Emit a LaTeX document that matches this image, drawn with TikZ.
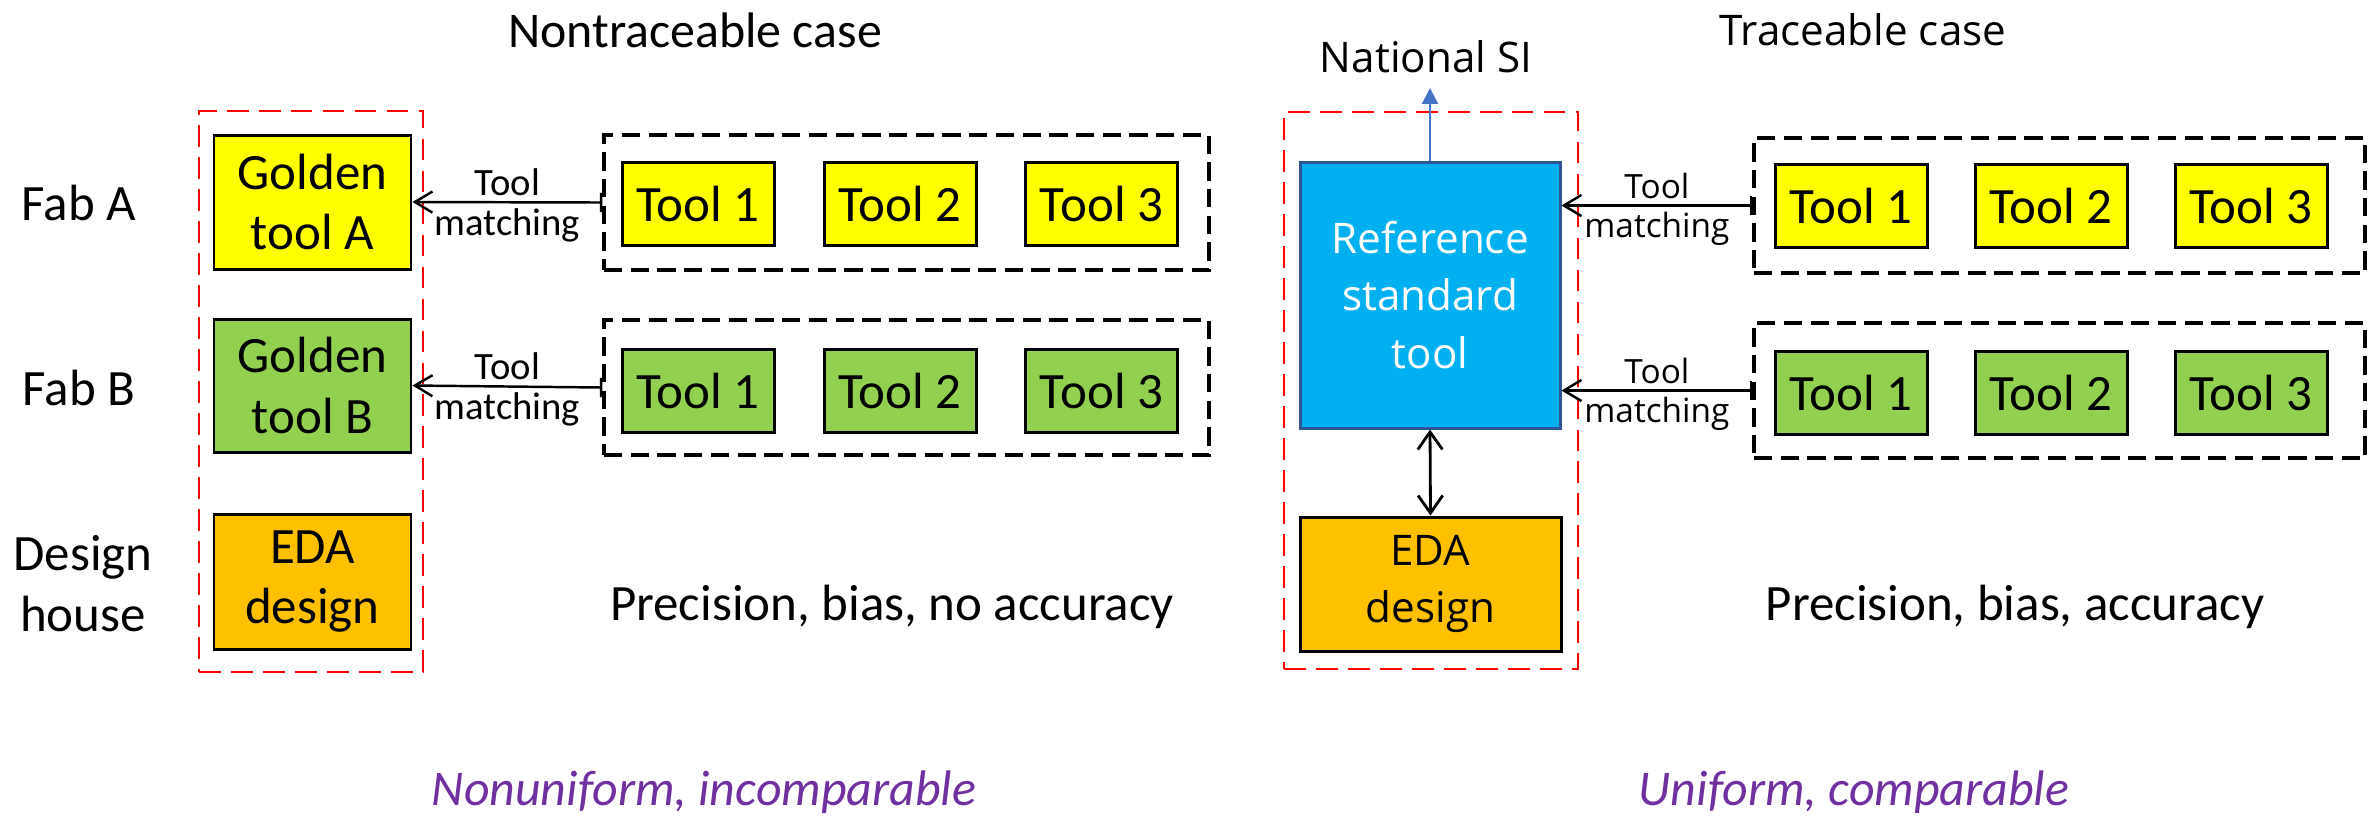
\documentclass[tikz,border=0pt]{standalone}
\usepackage{fontspec}
\setmainfont{Carlito}
\newfontfamily\yahei{Open Sans}
\usetikzlibrary{arrows.meta}
\definecolor{cyel}{HTML}{FFFF00}
\definecolor{cgrn}{HTML}{92D050}
\definecolor{corg}{HTML}{FFC000}
\definecolor{cblu}{HTML}{00B0F0}
\definecolor{cblb}{HTML}{2F5597}
\definecolor{carr}{HTML}{4472C4}
\definecolor{cpur}{HTML}{7030A0}
\definecolor{cred}{HTML}{FF0000}
\begin{document}
\begin{tikzpicture}[x=0.1mm,y=-0.1mm,
  narrow/.style={font=\fontsize{14.5}{17.3}\selectfont},
  wide/.style={font=\yahei\fontsize{12}{16.4}\selectfont},
  box/.style={draw=black, line width=0.85pt, align=center, inner sep=0pt, narrow},
  toolbox/.style={box, minimum width=15.2mm, minimum height=8.3mm},
  grp/.style={draw=black, line width=0.95pt, dash pattern=on 5.2pt off 2.4pt, inner sep=0pt, minimum width=#1},
  redgrp/.style={draw=cred, line width=0.8pt, dash pattern=on 6.2pt off 2.9pt, inner sep=0pt},
  match/.style={line width=0.7pt, {Bar[width=5.5pt]}-{Straight Barb[length=5pt,width=6pt]}},
  lbln/.style={font=\fontsize{11}{12}\selectfont, inner sep=1.5pt},
  lblw/.style={font=\yahei\fontsize{9.5}{11}\selectfont, inner sep=1.5pt},
  title/.style={font=\fontsize{14.2}{16}\selectfont},
  concl/.style={font=\itshape\fontsize{14.2}{16}\selectfont, text=cpur}
]
\path[use as bounding box] (0,0) rectangle (2379,818);

% ---------------- Left: nontraceable ----------------
\node[title] (t1) at (695,30) {Nontraceable case};

\node[redgrp, minimum width=22.4mm, minimum height=56.1mm] (redL) at (311,391.5) {};

\node[box, fill=cyel, minimum width=19.7mm, minimum height=13.4mm] (goldA) at (312.5,202) {Golden\\tool A};
\node[box, fill=cgrn, minimum width=19.7mm, minimum height=13.3mm] (goldB) at (312.5,385.5) {Golden\\tool B};
\node[box, fill=corg, minimum width=19.7mm, minimum height=13.5mm] (edaL) at (312.5,581.5) {EDA\\design};

\node[narrow] (fabA) at (79,203) {Fab A};
\node[narrow] (fabB) at (79,388) {Fab B};
\node[narrow, align=center] (dh) at (83,584) {Design\\house};

\node[grp=60.5mm, minimum height=13.5mm] (gA) at (906.5,202.5) {};
\node[grp=60.5mm, minimum height=13.5mm] (gB) at (906.5,387.5) {};

\node[toolbox, fill=cyel] (a1) at (698,204) {Tool 1};
\node[toolbox, fill=cyel] (a2) at (900,204) {Tool 2};
\node[toolbox, fill=cyel] (a3) at (1101.5,204) {Tool 3};
\node[toolbox, fill=cgrn] (b1) at (698,390.5) {Tool 1};
\node[toolbox, fill=cgrn] (b2) at (900,390.5) {Tool 2};
\node[toolbox, fill=cgrn] (b3) at (1101.5,390.5) {Tool 3};

\draw[match] (gA.west) -- (goldA.east)
  node[midway, above, lbln] {Tool} node[midway, below, lbln] {matching};
\draw[match] (gB.west) -- (goldB.east)
  node[midway, above, lbln] {Tool} node[midway, below, lbln] {matching};

\node[narrow] (pL) at (892,607) {Precision, bias, no accuracy};
\node[concl] (cL) at (704,792) {Nonuniform, incomparable};

% ---------------- Right: traceable ----------------
\node[wide] (t2) at (1863,30) {Traceable case};
\node[wide] (si) at (1426,57) {National SI};

\node[redgrp, minimum width=29.4mm, minimum height=55.7mm] (redR) at (1431,390.5) {};

\node[box, draw=cblb, fill=cblu, text=white, wide, minimum width=26mm, minimum height=26.6mm] (ref) at (1430,295) {Reference\\standard\\tool};
\node[box, fill=corg, wide, minimum width=26.1mm, minimum height=13.4mm] (edaR) at (1430.5,584) {EDA\\design};

\coordinate (siend) at (1430,88);
\draw[carr, line width=0.65pt, -{Triangle[length=4.5pt,width=4.5pt]}] (ref.north) -- (siend);
\draw[line width=0.8pt, {Straight Barb[length=5pt,width=7pt]}-{Straight Barb[length=5pt,width=7pt]}] (ref.south) -- (edaR.north);

\node[grp=61.1mm, minimum height=13.5mm] (gC) at (2059.5,205.5) {};
\node[grp=61.1mm, minimum height=13.5mm] (gD) at (2059.5,390.5) {};

\node[toolbox, fill=cyel] (c1) at (1851,205.5) {Tool 1};
\node[toolbox, fill=cyel] (c2) at (2051,205.5) {Tool 2};
\node[toolbox, fill=cyel] (c3) at (2251,205.5) {Tool 3};
\node[toolbox, fill=cgrn] (d1) at (1851,393) {Tool 1};
\node[toolbox, fill=cgrn] (d2) at (2051,393) {Tool 2};
\node[toolbox, fill=cgrn] (d3) at (2251,393) {Tool 3};

\draw[match] (gC.west) -- (gC.west -| ref.east)
  node[midway, above, lblw] {Tool} node[midway, below, lblw] {matching};
\draw[match] (gD.west) -- (gD.west -| ref.east)
  node[midway, above, lblw] {Tool} node[midway, below, lblw] {matching};

\node[narrow] (pR) at (2015,607) {Precision, bias, accuracy};
\node[concl] (cR) at (1854,792) {Uniform, comparable};
\end{tikzpicture}
\end{document}
